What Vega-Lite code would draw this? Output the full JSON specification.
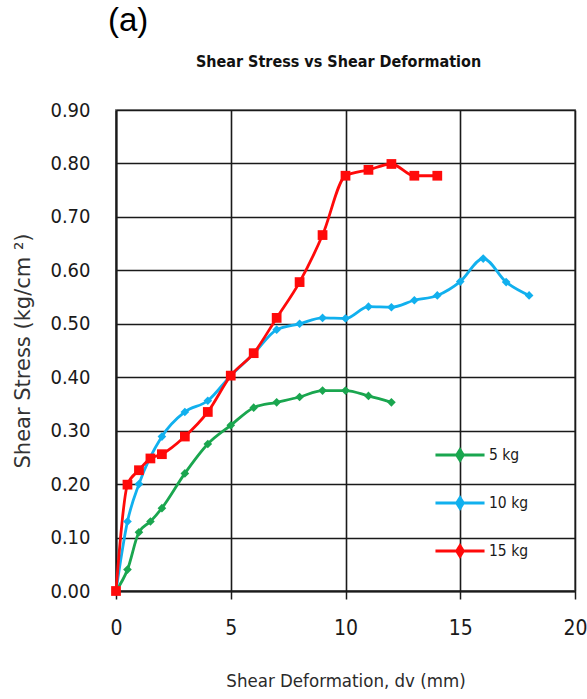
{
  "$schema": "https://vega.github.io/schema/vega-lite/v6.json",
  "background": "white",
  "padding": {"left": 11, "top": 5, "right": 5, "bottom": 5},
  "title": {"text": "(a)", "anchor": "start", "frame": "bounds", "dx": 96, "font": "Liberation Sans, Arial, sans-serif", "fontSize": 33, "fontWeight": "normal", "color": "#000", "offset": 15},
  "config": {
    "view": {"stroke": "#8a8a8a", "strokeWidth": 2},
    "axis": {"gridColor": "#1a1a1a", "gridWidth": 1.6, "gridOpacity": 1, "domainColor": "#1a1a1a", "domainWidth": 2, "tickColor": "#1a1a1a", "labelColor": "#1a1a1a", "titleColor": "#2a2a2a", "labelFont": "DejaVu Sans Condensed, sans-serif", "titleFont": "DejaVu Sans Condensed, sans-serif", "titleFontWeight": "normal", "labelFlush": false, "labelOverlap": false}
  },
  "vconcat": [
    {
      "width": 459,
      "height": 481,
      "title": {"text": "Shear Stress vs Shear Deformation", "font": "DejaVu Sans Condensed, sans-serif", "fontSize": 16, "fontWeight": "bold", "color": "#111", "anchor": "middle", "offset": 30, "dx": -7},
      "data": {"values": [
        {"series": "5 kg", "x": 0, "y": 0},
        {"series": "5 kg", "x": 0.5, "y": 0.04},
        {"series": "5 kg", "x": 1, "y": 0.11},
        {"series": "5 kg", "x": 1.5, "y": 0.13},
        {"series": "5 kg", "x": 2, "y": 0.155},
        {"series": "5 kg", "x": 3, "y": 0.22},
        {"series": "5 kg", "x": 4, "y": 0.275},
        {"series": "5 kg", "x": 5, "y": 0.31},
        {"series": "5 kg", "x": 6, "y": 0.343},
        {"series": "5 kg", "x": 7, "y": 0.353},
        {"series": "5 kg", "x": 8, "y": 0.363},
        {"series": "5 kg", "x": 9, "y": 0.375},
        {"series": "5 kg", "x": 10, "y": 0.375},
        {"series": "5 kg", "x": 11, "y": 0.365},
        {"series": "5 kg", "x": 12, "y": 0.353},
        {"series": "10 kg", "x": 0, "y": 0},
        {"series": "10 kg", "x": 0.5, "y": 0.13},
        {"series": "10 kg", "x": 1, "y": 0.2},
        {"series": "10 kg", "x": 2, "y": 0.289},
        {"series": "10 kg", "x": 3, "y": 0.335},
        {"series": "10 kg", "x": 4, "y": 0.356},
        {"series": "10 kg", "x": 5, "y": 0.403},
        {"series": "10 kg", "x": 6, "y": 0.444},
        {"series": "10 kg", "x": 7, "y": 0.489},
        {"series": "10 kg", "x": 8, "y": 0.5},
        {"series": "10 kg", "x": 9, "y": 0.511},
        {"series": "10 kg", "x": 10, "y": 0.51},
        {"series": "10 kg", "x": 11, "y": 0.532},
        {"series": "10 kg", "x": 12, "y": 0.531},
        {"series": "10 kg", "x": 13, "y": 0.544},
        {"series": "10 kg", "x": 14, "y": 0.553},
        {"series": "10 kg", "x": 15, "y": 0.579},
        {"series": "10 kg", "x": 16, "y": 0.622},
        {"series": "10 kg", "x": 17, "y": 0.578},
        {"series": "10 kg", "x": 18, "y": 0.553},
        {"series": "15 kg", "x": 0, "y": 0},
        {"series": "15 kg", "x": 0.5, "y": 0.199},
        {"series": "15 kg", "x": 1, "y": 0.226},
        {"series": "15 kg", "x": 1.5, "y": 0.248},
        {"series": "15 kg", "x": 2, "y": 0.256},
        {"series": "15 kg", "x": 3, "y": 0.289},
        {"series": "15 kg", "x": 4, "y": 0.335},
        {"series": "15 kg", "x": 5, "y": 0.403},
        {"series": "15 kg", "x": 6, "y": 0.445},
        {"series": "15 kg", "x": 7, "y": 0.511},
        {"series": "15 kg", "x": 8, "y": 0.578},
        {"series": "15 kg", "x": 9, "y": 0.666},
        {"series": "15 kg", "x": 10, "y": 0.777},
        {"series": "15 kg", "x": 11, "y": 0.788},
        {"series": "15 kg", "x": 12, "y": 0.799},
        {"series": "15 kg", "x": 13, "y": 0.777},
        {"series": "15 kg", "x": 14, "y": 0.777}
      ]},
      "encoding": {
        "x": {"field": "x", "type": "quantitative", "scale": {"domain": [0, 20], "nice": false},
          "axis": {"values": [0, 5, 10, 15, 20], "title": "Shear Deformation, dv (mm)", "labelFontSize": 21, "titleFontSize": 18.5, "tickSize": 8, "tickWidth": 1.5, "labelPadding": 18, "titlePadding": 33}},
        "y": {"field": "y", "type": "quantitative", "scale": {"domain": [0, 0.9], "nice": false},
          "axis": {"values": [0, 0.1, 0.2, 0.3, 0.4, 0.5, 0.6, 0.7, 0.8, 0.9], "format": ".2f", "title": "Shear Stress (kg/cm ²)", "titleFont": "DejaVu Sans, sans-serif", "titleColor": "#333", "labelFontSize": 20, "titleFontSize": 21, "tickSize": 0, "labelPadding": 26, "titlePadding": 16}},
        "color": {"field": "series", "type": "nominal",
          "scale": {"domain": ["5 kg", "10 kg", "15 kg"], "range": ["#1aa64f", "#11b0ee", "#ff0a0a"]},
          "legend": {"title": null, "orient": "none", "legendX": 326, "legendY": 327, "symbolType": "M-1.5,0H1.5M-0.2,0L0,-0.32L0.2,0L0,0.32Z", "symbolSize": 1070, "symbolStrokeWidth": 3, "labelFont": "DejaVu Sans Condensed, sans-serif", "labelFontSize": 15.5, "labelColor": "#1a1a1a", "labelOffset": 11, "rowPadding": 18,
            "encode": {"symbols": {"update": {"fill": {"scale": "color", "field": "value"}, "fillOpacity": {"value": 1}}}}}
        }
      },
      "layer": [
        {"mark": {"type": "line", "strokeWidth": 2.8, "interpolate": "monotone"}},
        {"transform": [{"filter": "datum.series !== '15 kg'"}],
          "mark": {"type": "point", "shape": "diamond", "filled": true, "opacity": 1, "size": 75}},
        {"transform": [{"filter": "datum.series === '15 kg'"}],
          "mark": {"type": "point", "shape": "square", "filled": true, "opacity": 1, "size": 95}}
      ]
    }
  ]
}
